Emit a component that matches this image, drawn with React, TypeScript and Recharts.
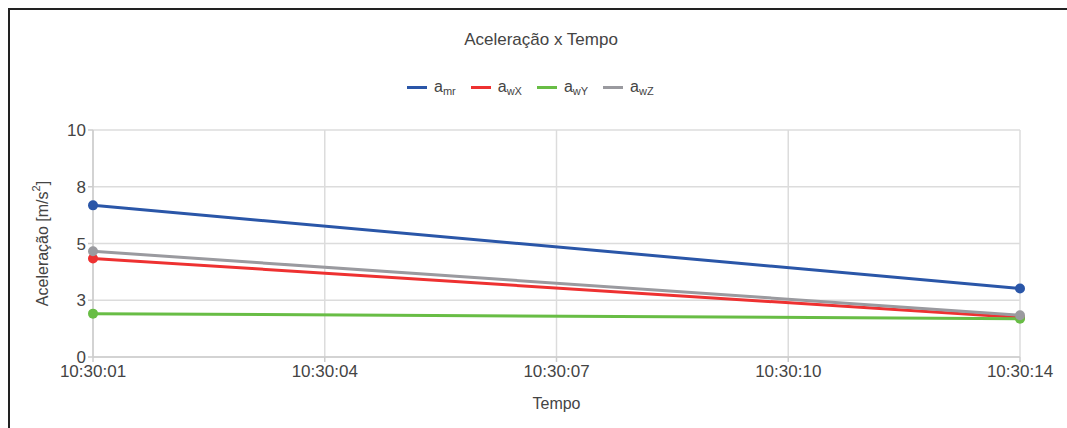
import React from 'react';
import { LineChart, Line, XAxis, YAxis, CartesianGrid } from 'recharts';

const times = [1, 14];
const amr = [6.68, 3.02];
const awX = [4.34, 1.74];
const awY = [1.91, 1.69];
const awZ = [4.66, 1.84];

const xTicks = [1, 4.25, 7.5, 10.75, 14];
const yTicks = [0, 2.5, 5, 7.5, 10];

const series = [
  { key: 'amr', sub: 'mr', color: '#2a56a8', values: amr },
  { key: 'awX', sub: 'wX', color: '#ee3131', values: awX },
  { key: 'awY', sub: 'wY', color: '#68bd45', values: awY },
  { key: 'awZ', sub: 'wZ', color: '#9a9a9f', values: awZ },
];

const data = times.map((t, i) => {
  const row: Record<string, number> = { t };
  series.forEach((s) => {
    row[s.key] = s.values[i];
  });
  return row;
});

const FONT = '"Liberation Sans", Arial, sans-serif';
const TEXT = '#444';

const fmtTime = (v: number) => `10:30:${String(Math.floor(v)).padStart(2, '0')}`;

const YLabel = (props: any) => {
  const { viewBox } = props;
  const x = viewBox.x + 32;
  const y = viewBox.y + viewBox.height / 2;
  return (
    <text
      x={x}
      y={y}
      transform={`rotate(-90, ${x}, ${y})`}
      textAnchor="middle"
      dominantBaseline="central"
      fill={TEXT}
      fontSize={16}
      fontFamily={FONT}
    >
      Aceleração [m/s<tspan dy={-6} fontSize={11}>2</tspan>
      <tspan dy={6}>]</tspan>
    </text>
  );
};

export default function App() {
  return (
    <div
      style={{
        position: 'fixed',
        left: 8,
        top: 8,
        width: 1080,
        height: 430,
        overflow: 'hidden',
        borderTop: '2px solid #222',
        borderLeft: '2px solid #222',
        fontFamily: FONT,
        background: '#fff',
      }}
    >
      <div
        style={{
          position: 'absolute',
          left: 0,
          width: 1062,
          top: 20,
          textAlign: 'center',
          fontSize: 17,
          color: TEXT,
        }}
      >
        Aceleração x Tempo
      </div>
      <div
        style={{
          position: 'absolute',
          left: 397,
          top: 68,
          display: 'flex',
          alignItems: 'center',
          fontSize: 16,
          color: TEXT,
        }}
      >
        {series.map((s) => (
          <div key={s.key} style={{ display: 'flex', alignItems: 'center', marginRight: 15 }}>
            <span style={{ display: 'inline-block', width: 20, height: 3, background: s.color, marginRight: 7 }} />
            <span>
              a<sub style={{ fontSize: 11, verticalAlign: -3 }}>{s.sub}</sub>
            </span>
          </div>
        ))}
      </div>
      <LineChart
        width={1057}
        height={418}
        data={data}
        margin={{ top: 120, right: 47, left: 0, bottom: 0 }}
        style={{ position: 'absolute', left: 0, top: 0 }}
      >
        <CartesianGrid stroke="#dcdcdc" strokeWidth={1.5} />
        <XAxis
          dataKey="t"
          type="number"
          domain={[1, 14]}
          ticks={xTicks}
          tickFormatter={fmtTime}
          height={71}
          stroke="#ccc"
          strokeWidth={1.5}
          tickSize={5}
          tickMargin={3}
          tick={{ fill: TEXT, fontSize: 17, fontFamily: FONT }}
          label={{ value: 'Tempo', position: 'insideBottom', offset: 19, fill: TEXT, fontSize: 16, fontFamily: FONT }}
        />
        <YAxis
          type="number"
          domain={[0, 10]}
          ticks={yTicks}
          tickFormatter={(v: number) => String(Math.round(v))}
          width={83}
          stroke="#ccc"
          strokeWidth={1.5}
          tickSize={5}
          tick={{ fill: TEXT, fontSize: 17, fontFamily: FONT }}
          label={<YLabel />}
        />
        {series.map((s) => (
          <Line
            key={s.key}
            dataKey={s.key}
            stroke={s.color}
            strokeWidth={3}
            dot={{ r: 5, fill: s.color, stroke: s.color, strokeWidth: 0 }}
            activeDot={false}
            isAnimationActive={false}
          />
        ))}
      </LineChart>
    </div>
  );
}
